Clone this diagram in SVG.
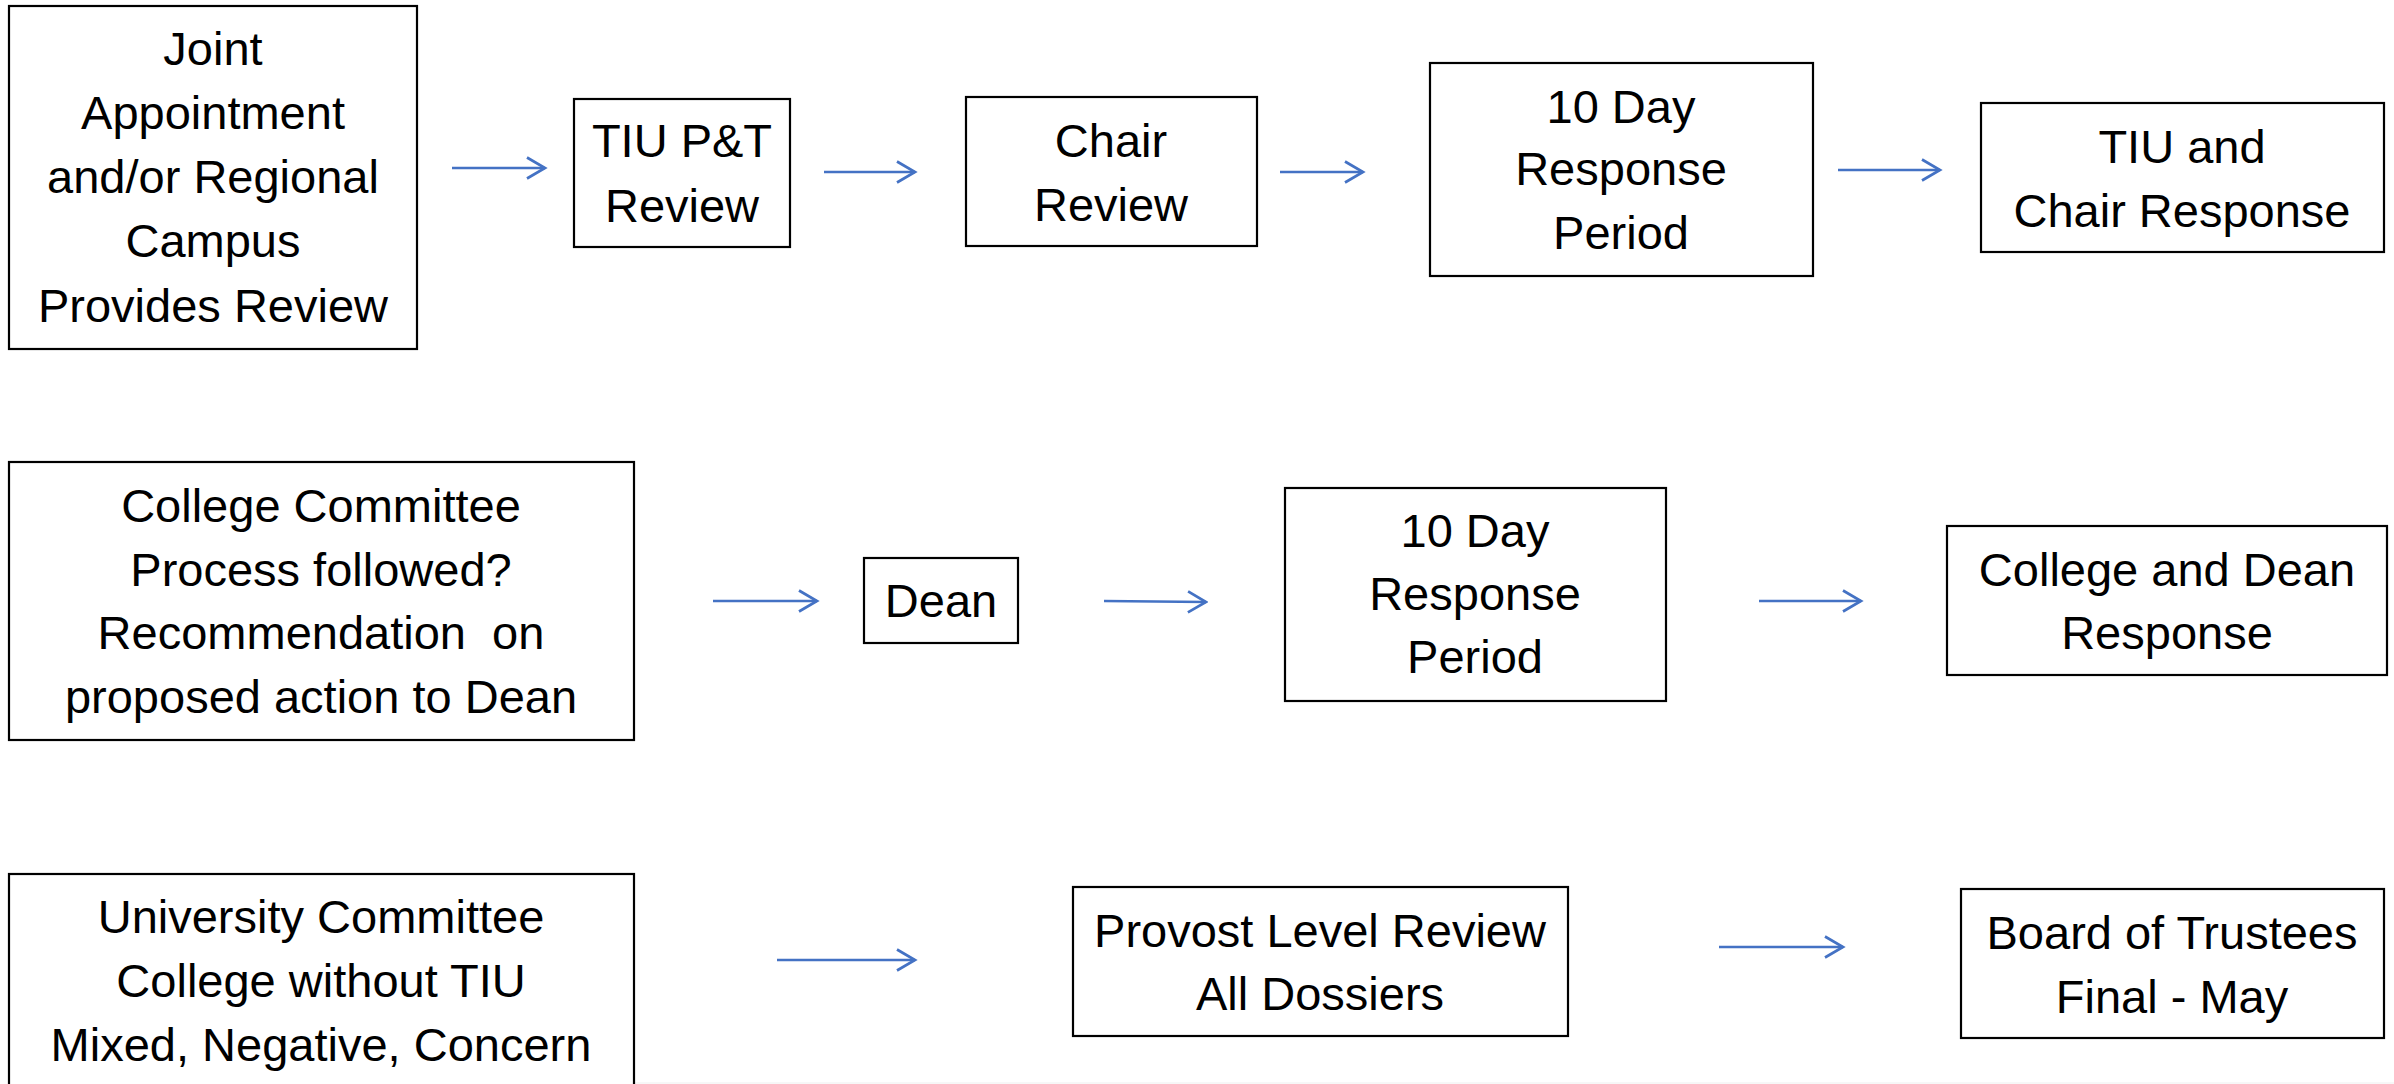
<svg xmlns="http://www.w3.org/2000/svg" width="2394" height="1084" viewBox="0 0 2394 1084">
  <style>
    .box { fill: #ffffff; stroke: #000000; stroke-width: 2.2; }
    .label { font-family: "Liberation Sans", Arial, sans-serif; font-size: 47px; fill: #000000; text-anchor: middle; }
    .flow { stroke: #4472C4; stroke-width: 2.7; fill: none; marker-end: url(#chevron); }
  </style>
  <defs>
    <marker id="chevron" markerUnits="userSpaceOnUse" viewBox="0 0 22 24" markerWidth="22" markerHeight="24" refX="19.5" refY="12" orient="auto">
      <path d="M1.5,1.5 L19.5,12 L1.5,22.5" fill="none" stroke="#4472C4" stroke-width="2.7" stroke-linejoin="miter"/>
    </marker>
  </defs>

  <rect x="0" y="0" width="2394" height="1084" fill="#ffffff"/>
  <line x1="485" y1="1083" x2="2394" y2="1083" stroke="#efefef" stroke-width="1"/>

  <!-- Row 1: department level -->
  <g id="joint-review">
    <rect class="box" x="9" y="6" width="408" height="343"/>
    <text class="label" x="213" y="65">Joint</text>
    <text class="label" x="213" y="129">Appointment</text>
    <text class="label" x="213" y="193">and/or Regional</text>
    <text class="label" x="213" y="257">Campus</text>
    <text class="label" x="213" y="322">Provides Review</text>
  </g>
  <g id="tiu-pt-review">
    <rect class="box" x="574" y="99" width="216" height="148"/>
    <text class="label" x="682" y="157">TIU P&amp;T</text>
    <text class="label" x="682" y="222">Review</text>
  </g>
  <g id="chair-review">
    <rect class="box" x="966" y="97" width="291" height="149"/>
    <text class="label" x="1111" y="157">Chair</text>
    <text class="label" x="1111" y="221">Review</text>
  </g>
  <g id="response-period-1">
    <rect class="box" x="1430" y="63" width="383" height="213"/>
    <text class="label" x="1621" y="123">10 Day</text>
    <text class="label" x="1621" y="185">Response</text>
    <text class="label" x="1621" y="249">Period</text>
  </g>
  <g id="tiu-chair-response">
    <rect class="box" x="1981" y="103" width="403" height="149"/>
    <text class="label" x="2182" y="163">TIU and</text>
    <text class="label" x="2182" y="227">Chair Response</text>
  </g>

  <!-- Row 2: college level -->
  <g id="college-committee">
    <rect class="box" x="9" y="462" width="625" height="278"/>
    <text class="label" x="321" y="522">College Committee</text>
    <text class="label" x="321" y="586">Process followed?</text>
    <text class="label" x="321" y="649" xml:space="preserve">Recommendation  on</text>
    <text class="label" x="321" y="713">proposed action to Dean</text>
  </g>
  <g id="dean">
    <rect class="box" x="864" y="558" width="154" height="85"/>
    <text class="label" x="941" y="617">Dean</text>
  </g>
  <g id="response-period-2">
    <rect class="box" x="1285" y="488" width="381" height="213"/>
    <text class="label" x="1475" y="547">10 Day</text>
    <text class="label" x="1475" y="610">Response</text>
    <text class="label" x="1475" y="673">Period</text>
  </g>
  <g id="college-dean-response">
    <rect class="box" x="1947" y="526" width="440" height="149"/>
    <text class="label" x="2167" y="586">College and Dean</text>
    <text class="label" x="2167" y="649">Response</text>
  </g>

  <!-- Row 3: university level -->
  <g id="university-committee">
    <rect class="box" x="9" y="874" width="625" height="230"/>
    <text class="label" x="321" y="933">University Committee</text>
    <text class="label" x="321" y="997">College without TIU</text>
    <text class="label" x="321" y="1061">Mixed, Negative, Concern</text>
  </g>
  <g id="provost-review">
    <rect class="box" x="1073" y="887" width="495" height="149"/>
    <text class="label" x="1320" y="947">Provost Level Review</text>
    <text class="label" x="1320" y="1010">All Dossiers</text>
  </g>
  <g id="board-of-trustees">
    <rect class="box" x="1961" y="889" width="423" height="149"/>
    <text class="label" x="2172" y="949">Board of Trustees</text>
    <text class="label" x="2172" y="1013">Final - May</text>
  </g>

  <!-- Connectors -->
  <g id="connectors">
    <line class="flow" x1="452" y1="168" x2="545" y2="168"/>
    <line class="flow" x1="824" y1="172" x2="915" y2="172"/>
    <line class="flow" x1="1280" y1="172" x2="1363" y2="172"/>
    <line class="flow" x1="1838" y1="170" x2="1940" y2="170"/>
    <line class="flow" x1="713" y1="601" x2="817" y2="601"/>
    <line class="flow" x1="1104" y1="601" x2="1206" y2="602"/>
    <line class="flow" x1="1759" y1="601" x2="1861" y2="601"/>
    <line class="flow" x1="777" y1="960" x2="915" y2="960"/>
    <line class="flow" x1="1719" y1="947" x2="1843" y2="947"/>
  </g>
</svg>
